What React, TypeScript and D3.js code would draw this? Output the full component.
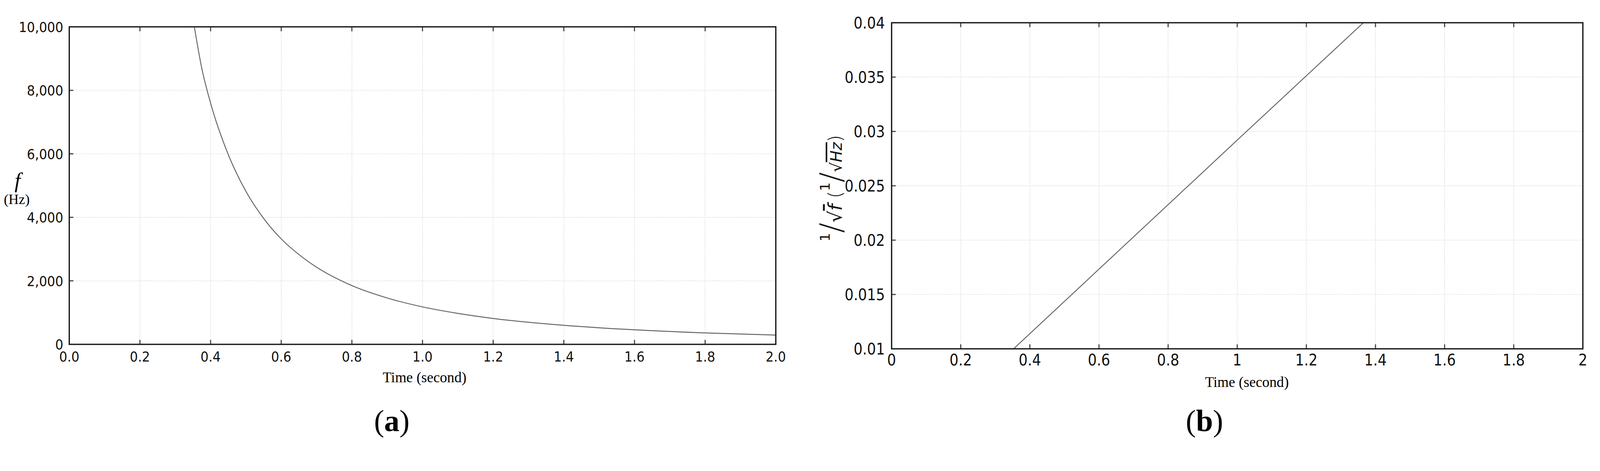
import React from 'react';
import * as d3 from 'd3';

// panel (a): frequency
const TIME_A = [0.354, 0.375, 0.4, 0.45, 0.5, 0.55, 0.6, 0.65, 0.7, 0.8, 0.9, 1.0, 1.1, 1.2, 1.4, 1.6, 1.8, 2.0];
const FREQ_A = [10000, 8700, 7600, 5980, 4820, 3970, 3320, 2830, 2430, 1850, 1460, 1180, 975, 815, 600, 458, 360, 292];

// panel (b): 1/sqrt(f) is a straight line
const TIME_B = [0.353, 1.0, 1.365];
const INV_SQRT_F = [0.01, 0.0292, 0.04];

const X_TICKS = [0, 0.2, 0.4, 0.6, 0.8, 1.0, 1.2, 1.4, 1.6, 1.8, 2.0];
const Y_TICKS_A = [0, 2000, 4000, 6000, 8000, 10000];
const Y_TICKS_B = [0.01, 0.015, 0.02, 0.025, 0.03, 0.035, 0.04];

const W = 4296;
const H = 1205;

const SANS = '"DejaVu Sans Condensed", "DejaVu Sans", sans-serif';
const SERIF = '"Liberation Serif", "Times New Roman", serif';

interface PanelProps {
  id: string,
  box: {left: number, right: number, top: number, bottom: number},
  xDomain: [number, number],
  yDomain: [number, number],
  yTicks: number[],
  xFmt: (v: number) => string,
  yFmt: (v: number) => string,
  xs: number[],
  ys: number[],
  curve: d3.CurveFactory,
  fontSize: number,
  xLabelGap: number,
  yLabelGap: number,
}

const Panel: React.FC<PanelProps> = ({id, box, xDomain, yDomain, yTicks, xFmt, yFmt, xs, ys, curve, fontSize, xLabelGap, yLabelGap}) => {
  const x = d3.scaleLinear().domain(xDomain).range([box.left, box.right]);
  const y = d3.scaleLinear().domain(yDomain).range([box.bottom, box.top]);
  const digitH = fontSize * 0.729;
  const line = d3.line<number>()
      .x((d, i) => x(xs[i]))
      .y((d) => y(d))
      .curve(curve);
  const tickLen = 12;

  return (
      <g>
        <defs>
          <clipPath id={`clip-${id}`}>
            <rect x={box.left} y={box.top} width={box.right - box.left} height={box.bottom - box.top}/>
          </clipPath>
        </defs>
        {/* grid */}
        {X_TICKS.slice(1, -1).map((t) => (
            <line key={`gx${t}`} x1={x(t)} x2={x(t)} y1={box.top} y2={box.bottom}
                  stroke="#e2e2e2" strokeWidth={2} strokeDasharray="3 2"/>
        ))}
        {yTicks.slice(1, -1).map((t) => (
            <line key={`gy${t}`} x1={box.left} x2={box.right} y1={y(t)} y2={y(t)}
                  stroke="#e2e2e2" strokeWidth={2} strokeDasharray="3 2"/>
        ))}
        {/* ticks */}
        {X_TICKS.slice(1, -1).map((t) => (
            <g key={`tx${t}`} stroke="#444" strokeWidth={3}>
              <line x1={x(t)} x2={x(t)} y1={box.bottom} y2={box.bottom - tickLen}/>
              <line x1={x(t)} x2={x(t)} y1={box.top} y2={box.top + tickLen}/>
            </g>
        ))}
        {yTicks.slice(1, -1).map((t) => (
            <line key={`ty${t}`} x1={box.left} x2={box.left + 11} y1={y(t)} y2={y(t)}
                  stroke="#444" strokeWidth={3}/>
        ))}
        <path d={line(ys) || ''} fill="none" stroke="#666" strokeWidth={2.5}
              clipPath={`url(#clip-${id})`}/>
        <rect x={box.left} y={box.top} width={box.right - box.left} height={box.bottom - box.top}
              fill="none" stroke="#1a1a1a" strokeWidth={3.5}/>
        {/* tick labels */}
        {X_TICKS.map((t) => (
            <text key={`lx${t}`} x={x(t)} y={box.bottom + xLabelGap + digitH}
                  textAnchor="middle" fontFamily={SANS} fontSize={fontSize} fill="#111">
              {xFmt(t)}
            </text>
        ))}
        {yTicks.map((t) => (
            <text key={`ly${t}`} x={box.left - yLabelGap} y={y(t) + digitH / 2}
                  textAnchor="end" fontFamily={SANS} fontSize={fontSize} fill="#111">
              {yFmt(t)}
            </text>
        ))}
      </g>
  );
};

const trim = (v: number) => String(+v.toFixed(3));

const App: React.FC = () => {
  const boxA = {left: 186, right: 2083, top: 72, bottom: 924};
  const boxB = {left: 2394, right: 4250, top: 61, bottom: 936};

  return (
      <svg viewBox={`0 0 ${W} ${H}`} preserveAspectRatio="xMinYMin meet"
           style={{display: 'block', width: '100%', height: 'auto', background: '#fff'}}>
        <style>{'html,body{margin:0;padding:0;overflow:hidden}'}</style>
        <Panel id="a" box={boxA} xDomain={[0, 2]} yDomain={[0, 10000]} yTicks={Y_TICKS_A}
               xFmt={d3.format('.1f')} yFmt={d3.format(',')} xs={TIME_A} ys={FREQ_A}
               curve={d3.curveMonotoneX} fontSize={38} xLabelGap={18} yLabelGap={16}/>
        <Panel id="b" box={boxB} xDomain={[0, 2]} yDomain={[0.01, 0.04]} yTicks={Y_TICKS_B}
               xFmt={trim} yFmt={trim} xs={TIME_B} ys={INV_SQRT_F}
               curve={d3.curveLinear} fontSize={42} xLabelGap={14} yLabelGap={18}/>

        {/* panel (a) axis titles */}
        <text x={47} y={503} textAnchor="middle" fontFamily={SERIF} fontStyle="italic" fontSize={58}>f</text>
        <text x={45} y={547} textAnchor="middle" fontFamily={SERIF} fontSize={38}>(Hz)</text>
        <text x={1140} y={1026} textAnchor="middle" fontFamily={SERIF} fontSize={39}>Time (second)</text>

        {/* panel (b) axis title, rotated */}
        <text transform="translate(2260, 505) rotate(-90)" textAnchor="middle"
              fontFamily='"DejaVu Sans", sans-serif' fontSize={50} fill="#111">
          <tspan fontSize={36} dy={-32}>1</tspan>
          <tspan fontSize={82} dy={32} fontWeight={200}>/</tspan>
          <tspan>√</tspan>
          <tspan fontStyle="italic" textDecoration="overline">f</tspan>
          <tspan dx={16} fontWeight={200}>(</tspan>
          <tspan fontSize={36} dy={-32}>1</tspan>
          <tspan fontSize={82} dy={32} fontWeight={200}>/</tspan>
          <tspan fontSize={42}>√</tspan>
          <tspan fontSize={42} fontStyle="italic" textDecoration="overline">Hz</tspan>
          <tspan fontWeight={200}>)</tspan>
        </text>
        <text x={3348} y={1038} textAnchor="middle" fontFamily={SERIF} fontSize={39}>Time (second)</text>

        {/* panel letters */}
        <text x={1052} y={1157} textAnchor="middle" fontFamily={SERIF} fontSize={82}>
          (<tspan fontWeight="bold">a</tspan>)
        </text>
        <text x={3234} y={1157} textAnchor="middle" fontFamily={SERIF} fontSize={82}>
          (<tspan fontWeight="bold">b</tspan>)
        </text>
      </svg>
  );
};

export default App;
